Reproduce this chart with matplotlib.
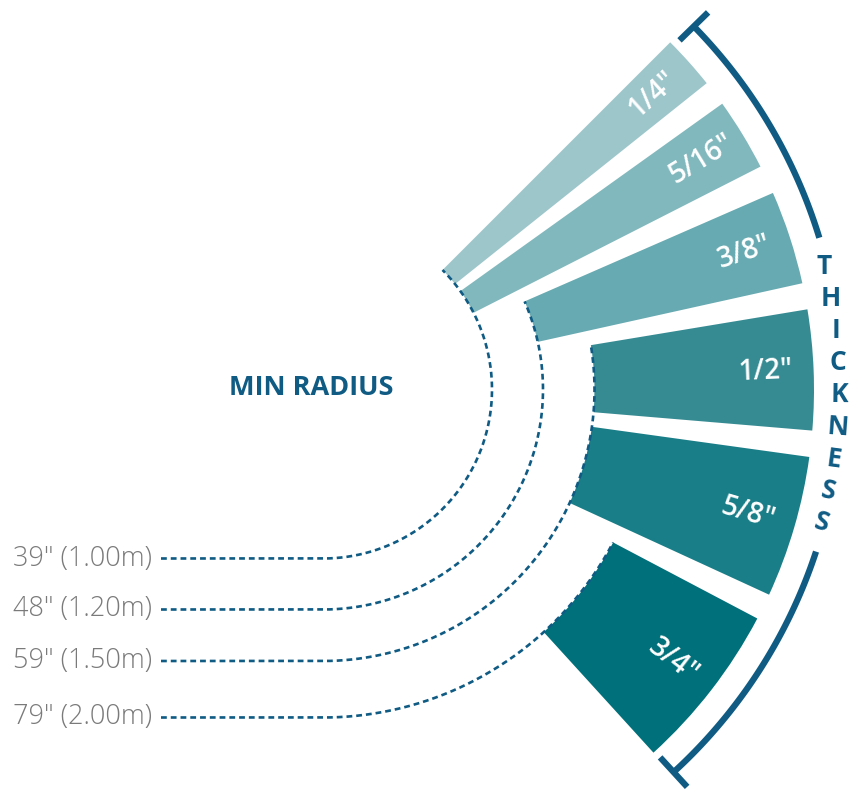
import matplotlib.pyplot as plt
from matplotlib.patches import Wedge
import numpy as np

# wedge data: thickness label, angular span (deg), which min-radius ring it sits on
thickness_labels = ['1/4″', '5/16″', '3/8″', '1/2″', '5/8″', '3/4″']
wedge_start = [38.6, 27.0, 12.5, -4.8, -24.7, -47.7]
wedge_end = [45.0, 35.6, 23.6, 9.4, -7.9, -27.8]
wedge_ring = [0, 0, 1, 2, 2, 3]
wedge_colors = ['#9dc6cb', '#81b8bd', '#67aab1', '#368b93', '#1a7e88', '#00707a']

# min radius rings
radius_labels = ['39″ (1.00m)', '48″ (1.20m)', '59″ (1.50m)', '79″ (2.00m)']
ring_radius = [169, 220, 271.5, 328]
ring_end = [45.0, 23.6, 9.4, -27.8]

axis_letters = list('THICKNESS')

blue = '#0f5b84'
grey = '#7a7a7a'
cx, cy = 323, 400.5
r_out = 491

fig = plt.figure(figsize=(8.61, 7.90), dpi=100)
ax = fig.add_axes([0, 0, 1, 1])
ax.set_xlim(0, 861)
ax.set_ylim(0, 790)
ax.set_aspect('equal')
ax.axis('off')
plt.rcParams['font.family'] = ['Open Sans', 'DejaVu Sans']

# wedges + labels
for lbl, t1, t2, ring, col in zip(thickness_labels, wedge_start, wedge_end, wedge_ring, wedge_colors):
    r_in = ring_radius[ring]
    ax.add_patch(Wedge((cx, cy), r_out, t1, t2, width=r_out - r_in, facecolor=col,
                       edgecolor='none', zorder=2))
    mid = np.radians((t1 + t2) / 2)
    ax.text(cx + 443 * np.cos(mid), cy + 443 * np.sin(mid), lbl, color='white',
            fontsize=20, fontweight='semibold', rotation=np.degrees(mid),
            rotation_mode='anchor', ha='center', va='center', zorder=4)

# dashed min radius rings
for lbl, r, te in zip(radius_labels, ring_radius, ring_end):
    th = np.radians(np.linspace(-90, te, 200))
    xs = np.concatenate([[161], cx + r * np.cos(th)])
    ys = np.concatenate([[cy - r], cy + r * np.sin(th)])
    ax.plot(xs, ys, color=blue, lw=1.9, ls=(0, (2.2, 1.5)), zorder=3)
    ax.text(152, cy - r, lbl, color=grey, fontsize=19.5, fontweight='light',
            ha='right', va='center')

ax.text(311, 402, 'MIN RADIUS', color=blue, fontsize=19.5, fontweight='bold',
        ha='center', va='center')

# thickness bracket
for a1, a2, tick in [(17.0, 44.4, 44.4), (-47.5, -18.2, -47.5)]:
    th = np.radians(np.linspace(a1, a2, 100))
    ax.plot(cx + 519 * np.cos(th), cy + 519 * np.sin(th), color=blue, lw=4.5,
            solid_capstyle='butt')
    tr = np.radians(tick)
    ax.plot([cx + 499 * np.cos(tr), cx + 539 * np.cos(tr)],
            [cy + 499 * np.sin(tr), cy + 539 * np.sin(tr)], color=blue, lw=4.5,
            solid_capstyle='butt')

for i, ch in enumerate(axis_letters):
    a = 13.8 - i * 3.6
    ar = np.radians(a)
    ax.text(cx + 516 * np.cos(ar), cy + 516 * np.sin(ar), ch, color=blue,
            fontsize=19, fontweight='bold', rotation=min(a, 0),
            ha='center', va='center')

fig.savefig('out.png', dpi=100)
